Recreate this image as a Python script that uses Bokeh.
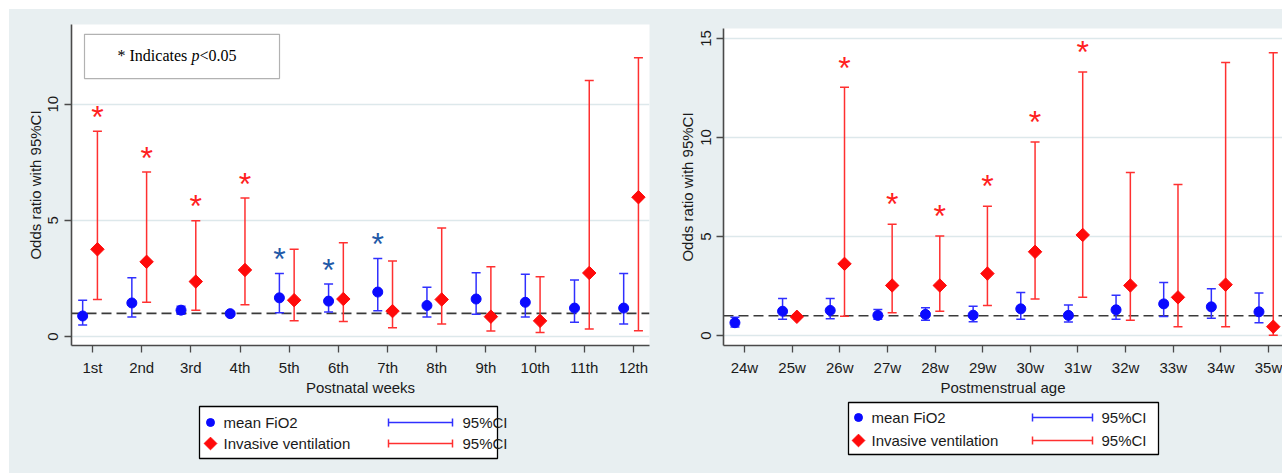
import math
from bokeh.plotting import figure
from bokeh.models import (Range1d, FixedTicker, Span, Whisker, TeeHead, ColumnDataSource,
                          BoxAnnotation, Label, Spacer)
from bokeh.layouts import row, column
from bokeh.embed import file_html
from bokeh.resources import INLINE
from bokeh.core.properties import value

nan = float("nan")

# ---------------- data : panel a (postnatal weeks) ----------------
weeks_a = [1, 2, 3, 4, 5, 6, 7, 8, 9, 10, 11, 12]
week_labels_a = ["1st", "2nd", "3rd", "4th", "5th", "6th", "7th", "8th", "9th", "10th", "11th", "12th"]
fio2_or_a = [0.89, 1.45, 1.14, 0.99, 1.67, 1.53, 1.92, 1.34, 1.62, 1.48, 1.23, 1.23]
fio2_lo_a = [0.50, 0.85, 0.96, 0.92, 1.03, 1.06, 1.11, 0.85, 0.96, 0.85, 0.62, 0.55]
fio2_hi_a = [1.57, 2.54, 1.31, 1.07, 2.72, 2.27, 3.36, 2.13, 2.75, 2.68, 2.44, 2.72]
fio2_sig_a = [False, False, False, False, True, True, True, False, False, False, False, False]
iv_or_a = [3.76, 3.22, 2.37, 2.87, 1.57, 1.62, 1.10, 1.60, 0.86, 0.68, 2.74, 6.00]
iv_lo_a = [1.60, 1.48, 1.14, 1.37, 0.68, 0.65, 0.38, 0.55, 0.24, 0.18, 0.33, 0.25]
iv_hi_a = [8.84, 7.08, 4.99, 5.97, 3.76, 4.04, 3.25, 4.67, 3.01, 2.58, 11.02, 12.00]
iv_sig_a = [True, True, True, True, False, False, False, False, False, False, False, False]

# ---------------- data : panel b (postmenstrual age) ----------------
ages_b = [24, 25, 26, 27, 28, 29, 30, 31, 32, 33, 34, 35]
age_labels_b = ["24w", "25w", "26w", "27w", "28w", "29w", "30w", "31w", "32w", "33w", "34w", "35w"]
fio2_or_b = [0.65, 1.23, 1.27, 1.02, 1.07, 1.03, 1.35, 1.02, 1.30, 1.60, 1.45, 1.20]
fio2_lo_b = [0.43, 0.82, 0.85, 0.82, 0.77, 0.70, 0.82, 0.68, 0.82, 0.97, 0.87, 0.65]
fio2_hi_b = [0.93, 1.87, 1.87, 1.32, 1.40, 1.48, 2.17, 1.55, 2.03, 2.68, 2.37, 2.15]
fio2_sig_b = [False] * 12
iv_or_b = [nan, 0.95, 3.62, 2.53, 2.53, 3.13, 4.23, 5.08, 2.53, 1.93, 2.57, 0.45]
iv_lo_b = [nan, nan, 0.98, 1.15, 1.23, 1.52, 1.85, 1.93, 0.77, 0.45, 0.45, 0.02]
iv_hi_b = [nan, nan, 12.53, 5.62, 5.03, 6.53, 9.77, 13.30, 8.23, 7.62, 13.78, 14.28]
iv_sig_b = [False, False, True, True, True, True, True, True, False, False, False, False]

legend_labels = ["mean FiO2", "Invasive ventilation"]
ci_label = "95%CI"
note_parts = ["* Indicates ", "p", "<0.05"]

# ---------------- style ----------------
BG = "#e8eff1"
BLUE_PT = "#0a0aff"
BLUE_LN = "#3030ff"
RED_PT = "#ff0a0a"
RED_LN = "#ff3030"
BLUE_STAR = "#1f5aa8"
RED_STAR = "#ff2020"
AXIS_C = "#4a4a4a"
TXT = "#1a1a1a"
GRID_C = "#dde8eb"
SANS = "Liberation Sans"
SERIF = "Liberation Serif"
BLUE_DX = -0.2
RED_DX = 0.1
BGSTYLE = {"background-color": BG}


def shift(xs, d):
    return [x + d for x in xs]


def make_main(width, height, xr, yr, borders, xticks, xlabels, yticks, xlabel, xl_standoff):
    p = figure(width=width, height=height, x_range=Range1d(*xr), y_range=Range1d(*yr),
               output_backend="svg", toolbar_location=None, styles=dict(BGSTYLE),
               min_border_left=borders[0], min_border_right=borders[1],
               min_border_top=borders[2], min_border_bottom=borders[3])
    p.background_fill_color = "white"
    p.border_fill_color = BG
    p.outline_line_color = None
    p.xgrid.visible = False
    p.ygrid.ticker = FixedTicker(ticks=yticks)
    p.ygrid.grid_line_color = GRID_C
    p.ygrid.grid_line_width = 1.5
    p.xaxis.ticker = FixedTicker(ticks=xticks)
    p.xaxis.major_label_overrides = {t: l for t, l in zip(xticks, xlabels)}
    p.yaxis.ticker = FixedTicker(ticks=yticks)
    p.yaxis.major_label_orientation = "vertical"
    p.xaxis.axis_label = xlabel
    p.yaxis.axis_label = "Odds ratio with 95%CI"
    for ax in (p.xaxis[0], p.yaxis[0]):
        ax.axis_line_color = AXIS_C
        ax.axis_line_width = 1.6
        ax.major_tick_line_color = AXIS_C
        ax.major_tick_line_width = 1.3
        ax.major_tick_out = 7
        ax.major_tick_in = 0
        ax.minor_tick_line_color = None
        ax.major_label_text_font = SANS
        ax.major_label_text_font_size = "15px"
        ax.major_label_text_color = TXT
        ax.axis_label_text_font = SANS
        ax.axis_label_text_font_size = "15px"
        ax.axis_label_text_font_style = "normal"
        ax.axis_label_text_color = TXT
    p.xaxis.major_label_standoff = 6
    p.xaxis.axis_label_standoff = xl_standoff
    p.yaxis.major_label_standoff = 6
    p.yaxis.axis_label_standoff = 2
    p.add_layout(Span(location=1, dimension="width", line_color="#3a3a3a",
                      line_width=1.6, line_dash="10 5", level="underlay"))
    return p


def add_series(p, xs, orv, lo, hi, sig, dx, pt_color, ln_color, star_color, marker, size,
               star_off):
    xx = shift(xs, dx)
    keep = [i for i in range(len(xs)) if not (math.isnan(lo[i]) or math.isnan(hi[i]))]
    src = ColumnDataSource(dict(x=[xx[i] for i in keep], lo=[lo[i] for i in keep],
                                hi=[hi[i] for i in keep]))
    w = Whisker(source=src, base="x", lower="lo", upper="hi", line_color=ln_color,
                line_width=1.5,
                upper_head=TeeHead(size=9, line_color=ln_color, line_width=1.5),
                lower_head=TeeHead(size=9, line_color=ln_color, line_width=1.5))
    p.add_layout(w)
    pts = [i for i in range(len(xs)) if not math.isnan(orv[i])]
    if marker == "circle":
        p.scatter([xx[i] for i in pts], [orv[i] for i in pts], marker="circle", size=size,
                  fill_color=pt_color, line_color=pt_color)
    else:
        p.scatter([xx[i] for i in pts], [orv[i] for i in pts], marker="square", size=size,
                  angle=math.pi / 4, fill_color=pt_color, line_color=pt_color)
    sidx = [i for i in range(len(xs)) if sig[i]]
    if sidx:
        p.text([xx[i] for i in sidx], [hi[i] + star_off for i in sidx], text=["*"] * len(sidx),
               text_font=value(SANS), text_font_size="32px", text_color=star_color,
               text_align="center", text_baseline="middle", y_offset=3)


# ---------------- sizes (page px; layout starts after a 9px white strip) ----------------
ORIG = 9
W_A, W_B = 644, 629
H_MAIN, H_LEG = 389, 75
BORD_A = (62, 4, 15, 48)   # left, right, top, bottom
BORD_B = (70, 0, 19, 50)

# ---------------- panel a ----------------
xr_a = (0.573, 12.325)
yr_a = (-0.38, 13.43)
pa = make_main(W_A, H_MAIN, xr_a, yr_a, BORD_A, weeks_a, week_labels_a, [0, 5, 10],
               "Postnatal weeks", 0)
add_series(pa, weeks_a, fio2_or_a, fio2_lo_a, fio2_hi_a, fio2_sig_a, BLUE_DX, BLUE_PT, BLUE_LN,
           BLUE_STAR, "circle", 10, 0.74)
add_series(pa, weeks_a, iv_or_a, iv_lo_a, iv_hi_a, iv_sig_a, RED_DX, RED_PT, RED_LN,
           RED_STAR, "diamond", 9.5, 0.74)


# page-pixel helpers for panel a frame (left=71px, 49.18px/unit; y0=341px, 23.6px/unit)
def ax_a(px):
    return xr_a[0] + (px - 71) / 49.18


def ay_a(py):
    return (341 - py) / 23.6


pa.add_layout(BoxAnnotation(left=ax_a(84), right=ax_a(279), top=ay_a(34), bottom=ay_a(79),
                            fill_color="white", fill_alpha=1, line_color="black",
                            line_width=1.2, level="annotation"))
offs = [0, 74, 82]
fonts_style = ["normal", "italic", "normal"]
for part, off, st in zip(note_parts, offs, fonts_style):
    pa.add_layout(Label(x=ax_a(117), y=ay_a(56), x_offset=off, text=part, text_font=SERIF,
                        text_font_size="16px", text_font_style=st, text_color="black",
                        text_baseline="middle", text_align="left"))
pa.add_layout(Label(x=ax_a(13), y=ay_a(32), text="a", text_font=SERIF, text_font_size="27px",
                    text_font_style="bold", text_color="black", text_baseline="alphabetic"))

# ---------------- panel b ----------------
PX_B = 47.64
xr_b = (23.56, 23.56 + (W_B - BORD_B[0] - BORD_B[1]) / PX_B)
yr_b = (-0.5, 15.5)
pb = make_main(W_B, H_MAIN, xr_b, yr_b, BORD_B, ages_b, age_labels_b,
               [0, 5, 10, 15], "Postmenstrual age", 0)
add_series(pb, ages_b, fio2_or_b, fio2_lo_b, fio2_hi_b, fio2_sig_b, BLUE_DX, BLUE_PT, BLUE_LN,
           BLUE_STAR, "circle", 10, 1.15)
add_series(pb, ages_b, iv_or_b, iv_lo_b, iv_hi_b, iv_sig_b, RED_DX, RED_PT, RED_LN,
           RED_STAR, "diamond", 9.5, 1.15)


def ax_b(px):
    return xr_b[0] + (px - 723) / PX_B


def ay_b(py):
    return (338 - py) / 20.0


pb.add_layout(Label(x=ax_b(672), y=ay_b(34), text="b", text_font=SERIF, text_font_size="27px",
                    text_font_style="bold", text_color="black", text_baseline="alphabetic"))


# ---------------- legends (figure-local pixel coordinates) ----------------
def make_legend(width, height, bord, box, mx, rows_y, tx, ci_x0, ci_x1, ci_tx):
    q = figure(width=width, height=height, x_range=Range1d(bord[0], width - bord[1]),
               y_range=Range1d(height, 0), output_backend="svg", toolbar_location=None,
               styles=dict(BGSTYLE),
               min_border_left=bord[0], min_border_right=bord[1],
               min_border_top=0, min_border_bottom=0)
    q.axis.visible = False
    q.grid.visible = False
    q.background_fill_color = BG
    q.border_fill_color = BG
    q.outline_line_color = None
    q.quad(left=[box[0]], right=[box[1]], top=[box[2]], bottom=[box[3]], fill_color="white",
           line_color="black", line_width=1.3)
    q.scatter([mx], [rows_y[0]], marker="circle", size=8, fill_color=BLUE_PT, line_color=BLUE_PT)
    q.scatter([mx], [rows_y[1]], marker="square", size=9, angle=math.pi / 4,
              fill_color=RED_PT, line_color=RED_PT)
    q.text([tx, tx], rows_y, text=legend_labels, text_font=value(SANS), text_font_size="15px",
           text_color=TXT, text_baseline="middle", text_align="left")
    for yy, c in zip(rows_y, (BLUE_LN, RED_LN)):
        q.segment(x0=[ci_x0], y0=[yy], x1=[ci_x1], y1=[yy], line_color=c, line_width=1.5)
        q.segment(x0=[ci_x0, ci_x1], y0=[yy - 4, yy - 4], x1=[ci_x0, ci_x1], y1=[yy + 4, yy + 4],
                  line_color=c, line_width=1.5)
    q.text([ci_tx, ci_tx], rows_y, text=[ci_label, ci_label], text_font=value(SANS),
           text_font_size="15px", text_color=TXT, text_baseline="middle", text_align="left")
    return q


# figure-local coordinates = page coords minus figure origin
la = make_legend(W_A, H_LEG, BORD_A, (199 - 9, 497 - 9, 406 - 398, 458 - 398), 210 - 9,
                 [422 - 398, 443 - 398], 223 - 9, 388 - 9, 452 - 9, 462 - 9)
XB0 = ORIG + W_A
lb = make_legend(W_B, H_LEG, BORD_B, (848 - XB0, 1158 - XB0, 402 - 398, 454 - 398), 858 - XB0,
                 [417 - 398, 440 - 398], 871 - XB0, 1032 - XB0, 1092 - XB0, 1101 - XB0)

col_a = column(pa, la, styles=dict(BGSTYLE))
col_b = column(pb, lb, styles=dict(BGSTYLE))
inner = row(col_a, col_b, styles=dict(BGSTYLE))
layout = column(Spacer(height=ORIG, width=ORIG + W_A + W_B),
                row(Spacer(width=ORIG, height=H_MAIN + H_LEG), inner))
open("out.html", "w").write(file_html(layout, INLINE))
